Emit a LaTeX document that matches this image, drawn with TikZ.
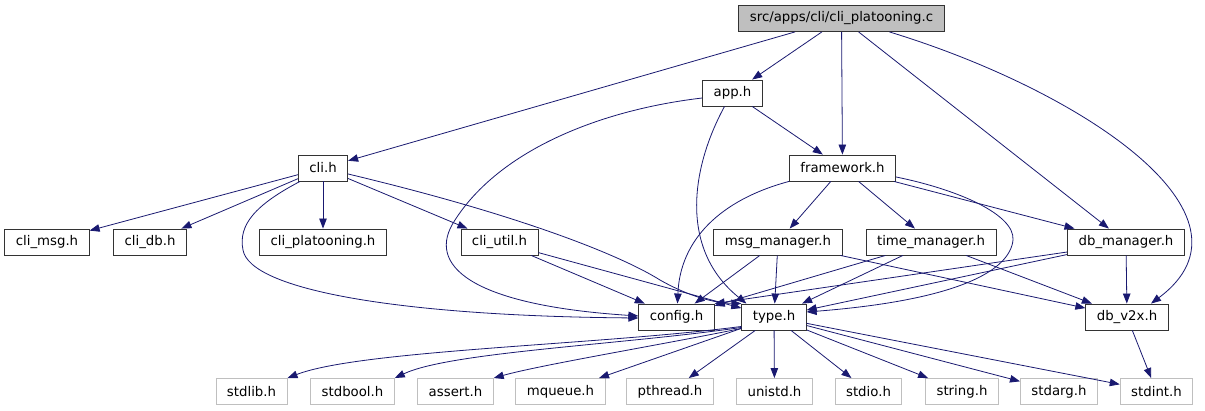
\documentclass[tikz,border=0pt]{standalone}
\usepackage{fontspec}
\setmainfont{DejaVu Sans}
\usepackage{xcolor}
\usepackage{tikz}
\usetikzlibrary{arrows.meta}
\definecolor{edgeblue}{HTML}{191970}
\definecolor{boxgray}{HTML}{BFBFBF}

\begin{document}
\begin{tikzpicture}[x=1pt,y=-1pt,
file/.style={draw=black!80,line width=0.9pt,minimum height=26pt,inner xsep=11pt,inner ysep=0pt,font=\fontsize{13.3}{16}\selectfont},
sys/.style={file,draw=boxgray},
inc/.style={draw=edgeblue,line width=0.8pt,-{Triangle[length=10pt,width=7.5pt]}}]
\useasboundingbox (0,0) rectangle (1205,411);
\node[file,fill=boxgray] (src) at (841.5,18.5) {src/apps/cli/cli\_platooning.c};
\node[file] (app) at (732.5,93) {app.h};
\node[file] (cli) at (323,168) {cli.h};
\node[file] (fw) at (842.5,168) {framework.h};
\node[file] (cmsg) at (47,242) {cli\_msg.h};
\node[file] (cdb) at (150,242) {cli\_db.h};
\node[file] (cpl) at (323,242) {cli\_platooning.h};
\node[file] (cutil) at (499.5,242) {cli\_util.h};
\node[file] (msg) at (778,242) {msg\_manager.h};
\node[file] (tm) at (931,242) {time\_manager.h};
\node[file] (dbm) at (1126,242) {db\_manager.h};
\node[file] (cfg) at (676.5,317) {config.h};
\node[file] (typ) at (774,317) {type.h};
\node[file] (dbv) at (1127,317) {db\_v2x.h};
\node[sys] (slib) at (251.5,391.5) {stdlib.h};
\node[sys] (sbool) at (352.5,391.5) {stdbool.h};
\node[sys] (asrt) at (455.5,391.5) {assert.h};
\node[sys] (mq) at (560.5,391.5) {mqueue.h};
\node[sys] (pth) at (670,391.5) {pthread.h};
\node[sys] (unis) at (774.5,391.5) {unistd.h};
\node[sys] (sio) at (868.5,391.5) {stdio.h};
\node[sys] (sstr) at (962,391.5) {string.h};
\node[sys] (sarg) at (1059,391.5) {stdarg.h};
\node[sys] (sint) at (1156.5,391.5) {stdint.h};
\foreach \a/\b in {src/app,src/cli,src/fw,src/dbm,app/fw,cli/cmsg,cli/cdb,cli/cpl,cli/cutil,cutil/cfg,cutil/typ,fw/msg,fw/tm,fw/dbm,msg/cfg,msg/typ,msg/dbv,tm/cfg,tm/typ,tm/dbv,dbm/typ,dbm/dbv,dbv/sint,typ/mq,typ/pth,typ/unis,typ/sio,typ/sstr,typ/sarg,typ/sint}
  \draw[inc] (\a)--(\b);
\draw[inc]([xshift=48pt]src.south) .. controls (1080,90) and (1270,215) .. ([xshift=24pt]dbv.north);
\draw[inc]([yshift=-5pt]app.west) .. controls (600,110) and (500,150) .. (455,220) .. controls (425,265) and (470,305) .. ([yshift=1pt]cfg.west);
\draw[inc]([xshift=-8pt]app.south) .. controls (690,170) and (680,250) .. ([xshift=5pt]typ.north west);
\draw[inc]([xshift=-23pt]cli.south) .. controls (255,205) and (238,225) .. (243,250) .. controls (250,290) and (400,316) .. ([yshift=-1pt]cfg.west);
\draw[inc]([yshift=-6pt]cli.east) .. controls (520,215) and (620,255) .. (660,280) .. controls (690,297) and (715,303) .. (typ.north west);
\draw[inc](fw.south west) .. controls (720,200) and (680,240) .. ([xshift=1pt]cfg.north);
\draw[inc]([yshift=-9pt]fw.east) .. controls (960,190) and (1015,215) .. (1013,240) .. controls (1010,270) and (960,300) .. ([yshift=5pt]typ.east);
\draw[inc]([yshift=-10pt]dbm.west) -- (cfg.north east);
\draw[inc]([yshift=4pt]typ.south west) .. controls (600,345) and (360,350) .. (slib.north east);
\draw[inc]([yshift=3pt]typ.south west) .. controls (620,345) and (450,352) .. (sbool.north east);
\draw[inc]([yshift=2pt]typ.south west) .. controls (660,345) and (540,365) .. (asrt.north east);
\end{tikzpicture}
\end{document}
